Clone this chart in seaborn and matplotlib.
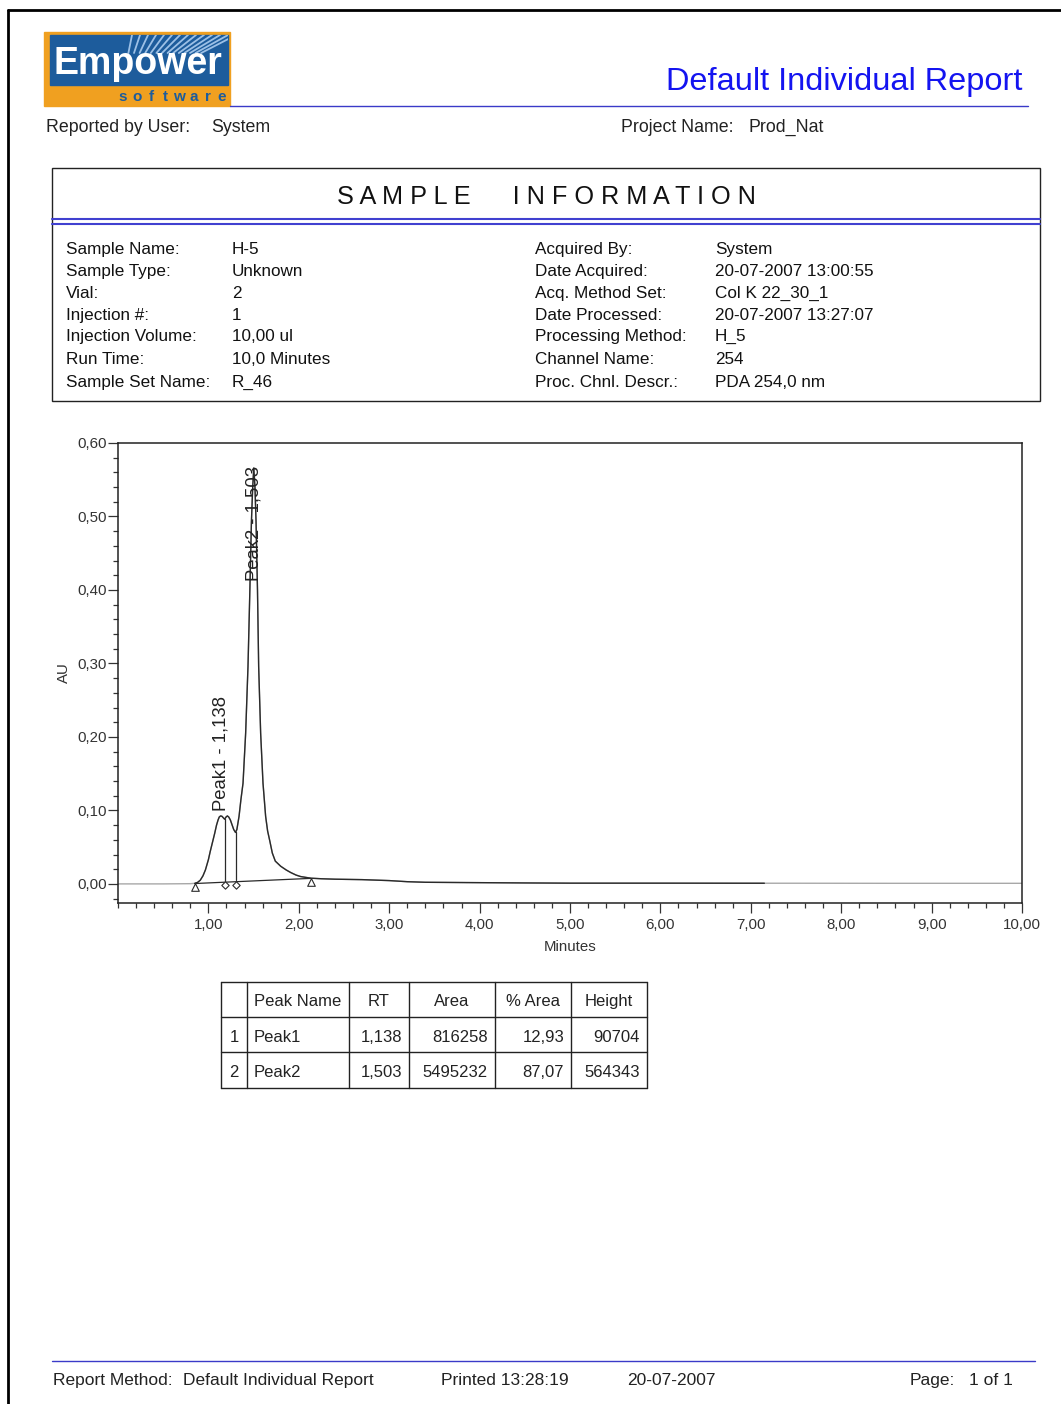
import numpy as np
import pandas as pd
import matplotlib.pyplot as plt
import seaborn as sns
from matplotlib.patches import Rectangle
from matplotlib.ticker import MultipleLocator, FixedLocator, FuncFormatter

# chromatogram trace (minutes, AU)
trace_min = [0.00, 0.50, 0.80, 0.85, 0.88, 0.91, 0.94, 0.967, 1.00, 1.02, 1.05, 1.07,
             1.09, 1.107, 1.12, 1.135, 1.15, 1.165, 1.18, 1.195, 1.21, 1.225, 1.243,
             1.26, 1.28, 1.30, 1.315, 1.339, 1.36, 1.383, 1.412, 1.438, 1.456, 1.476,
             1.49, 1.502, 1.515, 1.527, 1.543, 1.556, 1.578, 1.604, 1.633, 1.655, 1.68,
             1.707, 1.74, 1.80, 1.86, 1.91, 1.97, 2.02, 2.08, 2.13,
             2.25, 2.40, 2.70, 3.00, 3.20, 3.40, 3.86, 4.50, 5.00, 6.00, 7.00, 7.15,
             7.50, 8.50, 10.00]
trace_au = [0.0, 0.0, 0.0003, 0.0008, 0.002, 0.005, 0.011, 0.019, 0.033, 0.044, 0.059, 0.069,
            0.080, 0.087, 0.091, 0.0925, 0.092, 0.090, 0.088, 0.091, 0.0925, 0.091, 0.087,
            0.081, 0.074, 0.070, 0.074, 0.092, 0.115, 0.137, 0.205, 0.296, 0.386, 0.493,
            0.540, 0.566, 0.540, 0.493, 0.400, 0.296, 0.205, 0.137, 0.092, 0.072, 0.058,
            0.042, 0.031, 0.024, 0.019, 0.0155, 0.012, 0.010, 0.0088, 0.0078,
            0.007, 0.0064, 0.0058, 0.0045, 0.003, 0.0022, 0.0018, 0.0013, 0.001, 0.001, 0.0009,
            0.0009, 0.0009, 0.0008, 0.0008]

# integration baseline, drop lines and event marks
baseline_min = [0.85, 2.13]
baseline_au = [0.0005, 0.0075]
drop_min = [1.18, 1.30]
drop_top = [0.088, 0.070]
drop_bottom = [0.0044, 0.0054]
tri_min = [0.85, 2.13]
tri_au = [-0.004, 0.003]
dia_min = [1.18, 1.30]
dia_au = [-0.0014, -0.0014]

# peak table
peak_names = ['Peak1', 'Peak2']
peak_rt = [1.138, 1.503]
peak_area = [816258, 5495232]
peak_pct = [12.93, 87.07]
peak_height = [90704, 564343]
table_header = ['', 'Peak Name', 'RT', 'Area', '% Area', 'Height']

# sample information
info_left_labels = ['Sample Name:', 'Sample Type:', 'Vial:', 'Injection #:',
                    'Injection Volume:', 'Run Time:', 'Sample Set Name:']
info_left_values = ['H-5', 'Unknown', '2', '1', '10,00 ul', '10,0 Minutes', 'R_46']
info_right_labels = ['Acquired By:', 'Date Acquired:', 'Acq. Method Set:', 'Date Processed:',
                     'Processing Method:', 'Channel Name:', 'Proc. Chnl. Descr.:']
info_right_values = ['System', '20-07-2007 13:00:55', 'Col K 22_30_1', '20-07-2007 13:27:07',
                     'H_5', '254', 'PDA 254,0 nm']


def comma(v, nd):
    return f'{v:.{nd}f}'.replace('.', ',')


sns.set_style('ticks')
plt.rcParams['font.family'] = ['Liberation Sans', 'DejaVu Sans']

W, H = 1061, 1404
fig = plt.figure(figsize=(W / 100, H / 100), dpi=100)

# page layer in pixel coordinates
page = fig.add_axes([0, 0, 1, 1], zorder=0)
page.set_xlim(0, W)
page.set_ylim(H, 0)
page.axis('off')

# page border
page.plot([8, 8], [10, H], color='black', lw=2)
page.plot([8, W], [10, 10], color='black', lw=2)

# logo
page.add_patch(Rectangle((44, 32), 186, 74, color='#f0a020', zorder=2))
blue = Rectangle((50, 35), 178, 50, color='#1d5c9c', zorder=3)
page.add_patch(blue)
for k in range(14):
    xe = 132 + k * 8
    ln, = page.plot([120 + (xe - 120) * 0.7, xe], [35 + 60 * 0.3, 35], color='#9cc0e6',
                    lw=1.3, zorder=4)
    ln.set_clip_path(blue)
page.text(54, 74, 'Empower', color='white', fontsize=27, fontweight='bold', zorder=5)
for i, ch in enumerate('software'):
    page.text(123 + i * 14.1, 101, ch, color='#1d5c9c', fontsize=11, fontweight='bold',
              ha='center', va='baseline', zorder=5)

# header
page.plot([230, 1028], [105.5, 105.5], color='#3a3ac8', lw=1)
page.text(1022, 90, 'Default Individual Report', color='#1414f0', fontsize=23.4,
          ha='right', va='baseline')
hdr = dict(fontsize=12.8, color='#222', va='baseline')
page.text(46, 132, 'Reported by User:', **hdr)
page.text(211, 132, 'System', **hdr)
page.text(621, 132, 'Project Name:', **hdr)
page.text(749, 132, 'Prod_Nat', **hdr)

# sample information box
page.add_patch(Rectangle((52, 168), 988, 233, fill=False, ec='#222', lw=1))
page.plot([52, 1040], [219, 219], color='#4040d0', lw=1.5)
page.plot([52, 1040], [224, 224], color='#4040d0', lw=1.5)
page.text(546, 204, 'S A M P L E      I N F O R M A T I O N', fontsize=18.2, color='#111',
          ha='center', va='baseline')
row_y = [254, 276, 298, 320, 341, 364, 387]
inf = dict(fontsize=12.3, color='#111', va='baseline')
for y, a, b, c, d in zip(row_y, info_left_labels, info_left_values,
                         info_right_labels, info_right_values):
    page.text(66, y, a, **inf)
    page.text(232, y, b, **inf)
    page.text(535, y, c, **inf)
    page.text(715, y, d, **inf)

# peak table
col_x = [221, 247, 349, 409, 495, 571, 647]
tab_y = [982, 1017, 1052, 1088]
for x in col_x:
    page.plot([x, x], [tab_y[0], tab_y[-1]], color='#222', lw=1)
for y in tab_y:
    page.plot([col_x[0], col_x[-1]], [y, y], color='#222', lw=1)
tab = dict(fontsize=12, color='#222', va='baseline')
for j, h in enumerate(table_header):
    page.text((col_x[j] + col_x[j + 1]) / 2, 1006, h, ha='center', **tab)
for i in range(len(peak_names)):
    y = (tab_y[i + 1] + tab_y[i + 2]) / 2 + 7
    page.text((col_x[0] + col_x[1]) / 2, y, str(i + 1), ha='center', **tab)
    page.text(col_x[1] + 7, y, peak_names[i], ha='left', **tab)
    cells = [comma(peak_rt[i], 3), str(peak_area[i]), comma(peak_pct[i], 2), str(peak_height[i])]
    for j, s in enumerate(cells):
        page.text(col_x[j + 3] - 7, y, s, ha='right', **tab)

# footer
page.plot([52, 1035], [1361, 1361], color='#3a3ac8', lw=1)
ft = dict(fontsize=12.5, color='#222', va='baseline')
page.text(53, 1385, 'Report Method:', **ft)
page.text(183, 1385, 'Default Individual Report', **ft)
page.text(441, 1385, 'Printed 13:28:19', **ft)
page.text(627, 1385, '20-07-2007', **ft)
page.text(910, 1385, 'Page:', **ft)
page.text(969, 1385, '1 of 1', **ft)

# chromatogram
ax = fig.add_axes([118 / W, 1 - 903 / H, (1022 - 118) / W, (903 - 443) / H], zorder=1)
df = pd.DataFrame({'Minutes': trace_min, 'AU': trace_au})
sns.lineplot(data=df, x='Minutes', y='AU', ax=ax, color='#a8a8a8', lw=1,
             estimator=None, sort=False)
mid = df[(df['Minutes'] >= 0.85) & (df['Minutes'] <= 7.15)]
sns.lineplot(data=mid, x='Minutes', y='AU', ax=ax, color='#2a2a2a', lw=1,
             estimator=None, sort=False)
ax.plot(baseline_min, baseline_au, color='#2a2a2a', lw=0.9)
for xm, t, b in zip(drop_min, drop_top, drop_bottom):
    ax.plot([xm, xm], [b, t], color='#2a2a2a', lw=0.9)
sns.scatterplot(x=tri_min, y=tri_au, ax=ax, marker='^', s=30, color='white',
                edgecolor='#2a2a2a', linewidth=0.8, zorder=5)
sns.scatterplot(x=dia_min, y=dia_au, ax=ax, marker='D', s=14, color='white',
                edgecolor='#2a2a2a', linewidth=0.8, zorder=5)

ymax = 0.60
for name, rt, h in zip(peak_names, peak_rt, peak_height):
    au = h / 1e6
    label = f'{name} - {comma(rt, 3)}'
    if au + 0.18 > ymax:
        ax.text(rt, ymax - 0.031, label, rotation=90, ha='center', va='top',
                fontsize=13.3, color='#222')
    else:
        ax.text(rt, au + 0.008, label, rotation=90, ha='center', va='bottom',
                fontsize=13.3, color='#222')

ax.set_xlim(0, 10)
ax.set_ylim(-0.026, ymax)
ax.xaxis.set_major_locator(FixedLocator(np.arange(1, 11)))
ax.xaxis.set_minor_locator(MultipleLocator(0.2))
ax.yaxis.set_major_locator(MultipleLocator(0.1))
ax.yaxis.set_minor_locator(MultipleLocator(0.02))
ax.xaxis.set_major_formatter(FuncFormatter(lambda v, _: comma(v, 2)))
ax.yaxis.set_major_formatter(FuncFormatter(lambda v, _: comma(v, 2)))
ax.tick_params(which='major', direction='out', length=7, width=0.9, color='#333',
               labelsize=10.8, labelcolor='#333', pad=1)
ax.tick_params(axis='x', which='major', pad=4)
ax.tick_params(which='minor', direction='out', length=3.5, width=0.9, color='#333')
for sp in ax.spines.values():
    sp.set_color('#222')
    sp.set_linewidth(1.1)
ax.set_xlabel('Minutes', fontsize=10.8, color='#333')
ax.set_ylabel('AU', fontsize=10.8, color='#333')
ax.xaxis.set_label_coords(0.5, -0.08)
ax.yaxis.set_label_coords(-0.052, 0.5)

fig.savefig('out.png', dpi=100)
